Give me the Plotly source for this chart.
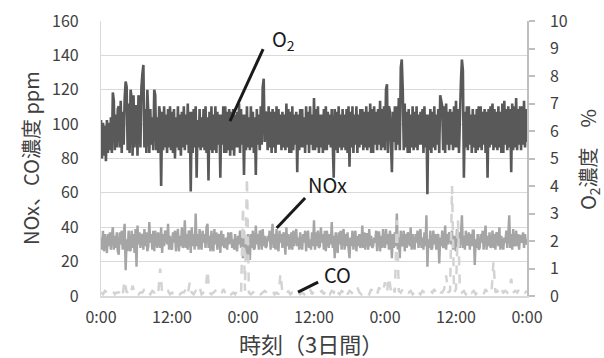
import plotly.graph_objects as go

x_tickvals = [0, 12, 24, 36, 48, 60, 72]
x_ticktext = ["0:00", "12:00", "0:00", "12:00", "0:00", "12:00", "0:00"]

# O2 concentration (%), right axis, 10-minute readings (one row per hour)
o2 = [
    6.4, 5.0, 6.3, 5.1, 6.2, 4.9,
    6.4, 5.2, 6.3, 5.3, 6.5, 5.2,
    7.4, 7.1, 5.3, 6.6, 5.4, 6.8,
    6.9, 5.4, 7.1, 5.2, 6.7, 5.5,
    7.2, 7.8, 7.6, 5.3, 7.0, 5.2,
    7.5, 7.2, 5.1, 7.3, 5.4, 6.9,
    6.9, 5.1, 7.3, 7.0, 5.4, 7.6,
    8.1, 8.4, 5.4, 6.8, 5.2, 7.5,
    6.6, 5.2, 6.8, 5.5, 6.5, 5.3,
    7.5, 7.3, 5.3, 6.5, 5.2, 6.9,
    6.6, 4.0, 6.7, 5.3, 6.9, 5.4,
    6.6, 5.2, 6.8, 5.4, 6.9, 5.3,
    6.7, 5.2, 6.8, 5.0, 6.5, 5.4,
    6.9, 5.3, 6.6, 5.1, 6.7, 5.4,
    6.9, 5.3, 6.6, 5.5, 7.0, 5.2,
    6.7, 3.8, 6.7, 5.2, 6.8, 5.4,
    6.9, 4.3, 6.4, 5.4, 6.8, 5.3,
    6.5, 5.4, 6.8, 5.3, 6.9, 5.2,
    6.5, 4.2, 6.7, 5.3, 6.9, 5.2,
    6.6, 5.3, 6.9, 5.2, 6.7, 5.5,
    6.6, 4.3, 6.6, 5.5, 6.9, 5.2,
    6.9, 5.2, 6.7, 5.3, 6.8, 5.1,
    6.7, 5.3, 6.8, 5.1, 6.6, 5.4,
    6.7, 5.4, 7.0, 5.2, 6.8, 5.5,
    6.6, 4.4, 6.6, 5.3, 6.9, 5.4,
    6.5, 5.3, 6.9, 5.4, 6.7, 5.2,
    6.5, 4.4, 6.8, 5.5, 6.6, 5.3,
    6.9, 5.5, 7.6, 7.9, 5.6, 6.7,
    6.6, 5.3, 6.9, 5.4, 6.7, 5.2,
    6.8, 5.4, 6.7, 5.2, 6.9, 5.5,
    6.8, 5.5, 6.6, 5.3, 6.7, 5.4,
    6.6, 5.3, 7.0, 5.4, 6.8, 5.2,
    6.7, 5.2, 6.9, 5.3, 6.6, 5.5,
    6.7, 4.5, 6.6, 5.3, 6.8, 5.4,
    6.8, 5.4, 6.5, 5.2, 6.9, 5.5,
    6.7, 5.2, 6.9, 5.5, 6.6, 5.3,
    7.2, 5.3, 6.8, 5.4, 6.9, 5.2,
    6.6, 5.4, 6.6, 5.2, 6.8, 5.3,
    6.9, 5.3, 6.7, 5.5, 6.6, 5.4,
    6.8, 5.5, 4.3, 6.8, 5.3, 6.7,
    5.2, 6.9, 5.4, 6.6, 5.3, 6.8,
    5.4, 6.6, 5.3, 6.8, 5.2, 6.9,
    4.7, 6.7, 5.4, 6.9, 5.2, 6.6,
    5.5, 6.9, 5.2, 6.6, 5.4, 6.8,
    5.5, 6.8, 5.3, 6.7, 5.4, 6.9,
    5.3, 6.7, 5.4, 7.0, 5.2, 6.8,
    5.2, 6.9, 5.5, 6.7, 5.3, 6.8,
    5.5, 7.1, 5.3, 6.8, 5.4, 6.9,
    5.3, 7.5, 7.7, 5.2, 6.9, 6.7,
    5.4, 4.5, 6.7, 5.6, 6.9, 5.3,
    6.9, 5.5, 7.2, 5.3, 8.3, 8.6,
    7.5, 5.3, 7.0, 5.4, 6.7, 5.2,
    6.8, 5.2, 6.6, 5.4, 6.9, 5.3,
    6.7, 5.4, 6.9, 5.3, 6.6, 5.5,
    6.7, 5.5, 6.8, 5.2, 6.9, 5.4,
    6.6, 3.7, 6.6, 5.3, 6.8, 5.2,
    6.7, 5.4, 6.9, 5.3, 6.6, 5.5,
    6.8, 5.2, 7.3, 7.1, 6.9, 5.3,
    6.9, 5.2, 7.0, 5.5, 6.7, 5.3,
    6.8, 5.5, 6.7, 5.3, 6.9, 5.4,
    7.1, 5.4, 6.8, 5.2, 6.9, 7.8,
    8.6, 8.2, 4.3, 6.7, 5.4, 6.9,
    5.3, 6.9, 5.5, 6.6, 5.2, 6.8,
    5.4, 6.6, 5.2, 6.8, 5.3, 6.9,
    5.4, 6.9, 5.3, 6.7, 5.5, 6.8,
    5.2, 6.7, 4.3, 6.8, 5.4, 6.9,
    5.5, 7.0, 5.3, 6.8, 5.4, 6.7,
    5.3, 6.9, 5.4, 6.7, 5.2, 7.0,
    5.2, 7.1, 5.5, 6.8, 5.3, 6.9,
    5.4, 6.8, 4.5, 7.0, 5.3, 6.9,
    5.4, 7.2, 5.3, 6.8, 5.5, 6.9,
    5.3, 6.9, 5.5, 7.1, 5.4, 6.8,
    5.6,
]

# NOx concentration (ppm), left axis, 10-minute readings (one row per hour)
nox = [
    34, 27, 38, 26, 36, 29,
    25, 36, 29, 37, 27, 35,
    40, 27, 35, 28, 37, 26,
    24, 37, 30, 38, 27, 36,
    42, 15, 33, 26, 38, 28,
    26, 38, 28, 36, 25, 39,
    17, 41, 30, 37, 28, 36,
    35, 27, 39, 29, 37, 26,
    29, 43, 31, 36, 27, 38,
    26, 38, 33, 28, 37, 30,
    28, 40, 25, 36, 29, 38,
    36, 30, 42, 27, 35, 28,
    27, 37, 31, 38, 26, 35,
    39, 26, 35, 29, 40, 28,
    30, 44, 28, 36, 27, 38,
    37, 25, 40, 29, 36, 27,
    48, 29, 36, 27, 39, 30,
    27, 38, 31, 36, 28, 40,
    42, 28, 35, 26, 38, 29,
    26, 39, 30, 37, 27, 35,
    36, 25, 38, 29, 36, 28,
    29, 34, 27, 37, 30, 35,
    37, 28, 33, 27, 36, 29,
    26, 35, 30, 38, 28, 34,
    22, 38, 27, 35, 21, 36,
    33, 21, 36, 28, 38, 27,
    28, 41, 30, 36, 27, 38,
    37, 27, 39, 29, 35, 28,
    29, 35, 32, 38, 27, 36,
    42, 28, 36, 27, 39, 30,
    26, 38, 31, 36, 28, 37,
    35, 24, 40, 29, 36, 27,
    30, 37, 27, 38, 29, 35,
    39, 29, 34, 27, 37, 30,
    27, 36, 31, 38, 26, 35,
    38, 28, 33, 27, 37, 29,
    44, 27, 37, 29, 38, 28,
    29, 40, 31, 36, 27, 38,
    26, 38, 33, 28, 36, 30,
    43, 28, 35, 22, 37, 29,
    25, 37, 30, 38, 27, 36,
    39, 27, 36, 29, 37, 28,
    22, 34, 29, 38, 27, 35,
    38, 26, 35, 29, 36, 28,
    30, 41, 28, 37, 27, 36,
    36, 27, 39, 29, 35, 28,
    29, 34, 31, 38, 26, 37,
    37, 26, 35, 28, 39, 30,
    28, 39, 30, 36, 27, 38,
    33, 22, 36, 28, 37, 29,
    48, 27, 34, 22, 38, 29,
    30, 38, 26, 36, 28, 37,
    35, 29, 40, 27, 36, 30,
    27, 36, 31, 38, 28, 35,
    39, 28, 34, 27, 37, 29,
    47, 17, 33, 28, 38, 27,
    28, 38, 30, 36, 27, 35,
    36, 19, 34, 29, 38, 28,
    29, 41, 27, 36, 30, 37,
    36, 30, 38, 27, 35, 29,
    26, 39, 31, 37, 28, 36,
    47, 28, 35, 27, 38, 30,
    30, 37, 27, 36, 29, 38,
    38, 18, 33, 28, 36, 27,
    28, 36, 31, 38, 27, 35,
    41, 27, 35, 29, 37, 28,
    30, 38, 28, 36, 27, 37,
    36, 29, 40, 27, 35, 30,
    27, 34, 31, 38, 28, 36,
    47, 28, 36, 27, 39, 29,
    30, 38, 29, 36, 27, 35,
    35, 31, 37, 28, 36, 30,
    33,
]

# CO concentration (ppm), left axis, 20-minute readings (one row per 4 hours)
co = [
    2, 1, 3, 2, 1, 2, 3, 1, 2, 2, 4, 1,
    9, 2, 3, 1, 6, 2, 3, 1, 2, 2, 4, 1,
    2, 1, 3, 2, 3, 1, 16, 2, 1, 2, 3, 1,
    2, 1, 2, 3, 1, 2, 2, 4, 1, 8, 2, 1,
    3, 2, 5, 1, 2, 3, 15, 2, 1, 2, 3, 1,
    2, 1, 4, 2, 1, 3, 1, 2, 1, 3, 2, 1,
    52, 3, 69, 2, 1, 2, 3, 1, 2, 1, 2, 3,
    2, 1, 2, 3, 1, 2, 1, 13, 2, 2, 1, 3,
    1, 2, 1, 2, 3, 1, 2, 1, 3, 2, 4, 1,
    3, 2, 1, 2, 3, 1, 4, 2, 1, 3, 2, 5,
    2, 1, 3, 2, 4, 1, 3, 2, 1, 2, 5, 2,
    1, 3, 2, 2, 1, 4, 2, 3, 1, 5, 2, 3,
    8, 2, 11, 3, 6, 2, 44, 3, 2, 4, 2, 3,
    2, 3, 1, 2, 4, 2, 1, 3, 2, 2, 1, 3,
    2, 4, 1, 3, 2, 2, 4, 12, 2, 3, 64, 2,
    4, 44, 3, 2, 3, 1, 2, 4, 2, 3, 1, 2,
    2, 3, 1, 4, 2, 3, 2, 20, 2, 3, 1, 4,
    2, 3, 2, 4, 10, 2, 3, 2, 4, 2, 3, 2,
    3,
]

hours_o2 = [i / 6 for i in range(len(o2))]
hours_nox = [i / 6 for i in range(len(nox))]
hours_co = [i / 3 for i in range(len(co))]

font_jp = "Noto Sans CJK JP"
tick_color = "#404040"

fig = go.Figure()

fig.add_trace(go.Scatter(
    x=hours_nox, y=nox, mode="lines", name="NOx",
    line=dict(color="#a5a5a5", width=2.4),
    yaxis="y",
))
fig.add_trace(go.Scatter(
    x=hours_co, y=co, mode="lines", name="CO",
    line=dict(color="#d3d3d3", width=2.5, dash="dash"),
    yaxis="y",
))
fig.add_trace(go.Scatter(
    x=hours_o2, y=o2, mode="lines", name="O2",
    line=dict(color="#595959", width=2.6),
    yaxis="y2",
))

# label leader lines (data coordinates of left axis)
leader_lines = [
    (27.4, 143.7, 21.8, 101.8),
    (34.5, 57.0, 29.7, 39.6),
    (36.7, 8.1, 33.3, 2.3),
]
for x0, y0, x1, y1 in leader_lines:
    fig.add_shape(type="line", xref="x", yref="y", x0=x0, y0=y0, x1=x1, y1=y1,
                  line=dict(color="#1a1a1a", width=3))

labels = [
    (30.9, 149, "O<sub>2</sub>"),
    (38.2, 64.6, "NOx"),
    (39.9, 12.8, "CO"),
]
for lx, ly, txt in labels:
    fig.add_annotation(x=lx, y=ly, xref="x", yref="y", text=txt, showarrow=False,
                       font=dict(family=font_jp, size=20, color="#1a1a1a"))

# axis titles placed in pixel-derived paper positions
W, H = 604, 358
L, R, T, B = 101, 77, 21, 62
pw, ph = W - L - R, H - T - B


def px_to_paper(px, py):
    return (px - L) / pw, (H - B - py) / ph


titles = [
    (311, 343, "時刻（3日間）", 0, 22),
    (30, 158, "NOx、CO濃度 ppm", -90, 20),
    (589, 160, "O<sub>2</sub>濃度　%", -90, 20),
]
for tx, ty, txt, ang, sz in titles:
    ax_, ay_ = px_to_paper(tx, ty)
    fig.add_annotation(x=ax_, y=ay_, xref="paper", yref="paper", text=txt,
                       showarrow=False, textangle=ang, xanchor="center", yanchor="middle",
                       font=dict(family=font_jp, size=sz, color=tick_color))

fig.update_layout(
    width=W, height=H,
    margin=dict(l=L, r=R, t=T, b=B),
    paper_bgcolor="white", plot_bgcolor="white",
    showlegend=False,
    font=dict(family=font_jp, color=tick_color),
    xaxis=dict(
        range=[0, 72], tickvals=x_tickvals, ticktext=x_ticktext,
        showgrid=False, zeroline=False, automargin=False,
        showline=True, linecolor="#d9d9d9", linewidth=1.5,
        ticks="", ticklabelstandoff=6,
        tickfont=dict(family=font_jp, size=16, color=tick_color),
    ),
    yaxis=dict(
        range=[0, 160], dtick=20, tick0=0, automargin=False,
        showgrid=True, gridcolor="#d9d9d9", gridwidth=1.2,
        zeroline=False, showline=True, linecolor="#d9d9d9", linewidth=1.2,
        ticks="", ticklabelstandoff=18,
        tickfont=dict(family=font_jp, size=16, color=tick_color),
    ),
    yaxis2=dict(
        range=[0, 10], dtick=1, tick0=0, overlaying="y", side="right",
        showgrid=False, zeroline=False, automargin=False,
        showline=True, linecolor="#bfbfbf", linewidth=1.5,
        ticks="outside", ticklen=6, tickcolor="#bfbfbf", tickwidth=1.5,
        ticklabelstandoff=12,
        tickfont=dict(family=font_jp, size=16, color=tick_color),
    ),
)

fig.write_html(
    "out.html",
    config={"displayModeBar": False},
    post_script="document.body.style.margin='0px';document.body.style.overflow='hidden';",
)
